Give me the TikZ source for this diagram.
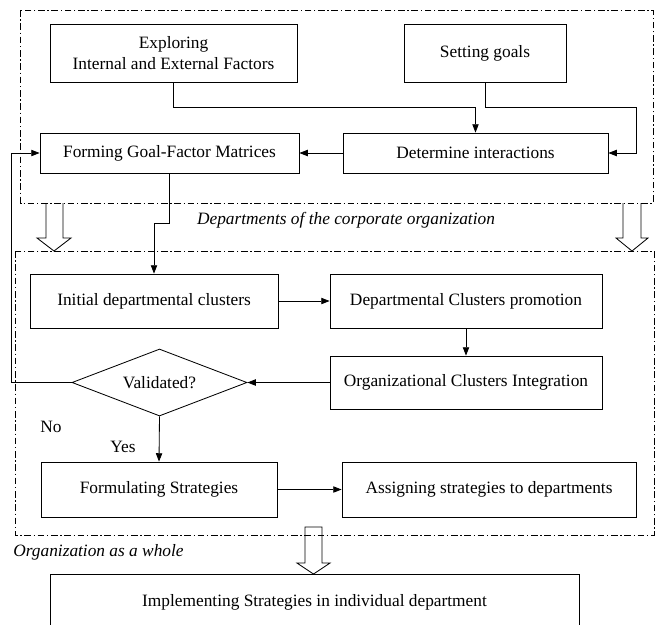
\documentclass[tikz,border=0pt]{standalone}
\usepackage{fontspec}
\setmainfont{Liberation Serif}
\usepackage{tikz}
\usetikzlibrary{shapes,arrows,positioning,fit,calc,arrows.meta}

\tikzset{
    stepbox/.style={draw, line width=0.5pt, align=center, inner sep=2pt},
    groupbox/.style={line width=0.45pt, dash pattern=on 4pt off 1.6pt on 0.8pt off 1.6pt},
    arr/.style={line width=0.5pt, -{Triangle[length=5pt,width=3.8pt]}},
    hollow/.style={draw, line width=0.5pt}
}

\begin{document}
\begin{tikzpicture}[x=0.6pt, y=-0.6pt, font=\fontsize{10.4}{12.5}\selectfont]
    \useasboundingbox (0,0) rectangle (659,624);
    % Departments of the corporate organization
    \draw[groupbox] (20.7,10) rectangle (653,203);
    \node[stepbox, minimum width=148.2pt, minimum height=34.8pt] (explore) at (173.5,53) {Exploring\\Internal and External Factors};
    \node[stepbox, minimum width=97.2pt, minimum height=34.8pt] (goals) at (485,53) {Setting goals};
    \node[stepbox, minimum width=155.4pt, minimum height=24pt] (forming) at (169.5,153) {Forming Goal-Factor Matrices};
    \node[stepbox, minimum width=159pt, minimum height=24pt] (determine) at (475.5,153) {Determine interactions};
    \node[font=\itshape\fontsize{10.4}{12.5}\selectfont] (deptlabel) at (346,220) {Departments of the corporate organization};

    % Organization as a whole
    \draw[groupbox] (15,251) rectangle (654,535);
    \node[stepbox, minimum width=148.8pt, minimum height=32.4pt] (initial) at (154,301) {Initial departmental clusters};
    \node[stepbox, minimum width=163.2pt, minimum height=32.4pt] (promotion) at (466,301) {Departmental Clusters promotion};
    \node[stepbox, minimum width=163.2pt, minimum height=31.8pt] (integration) at (466,382.5) {Organizational Clusters Integration};
    \node[draw, line width=0.5pt, diamond, aspect=2.6, inner sep=0pt, minimum width=105pt, minimum height=40.2pt] (valid) at (159.5,382.5) {Validated?};
    \node[stepbox, minimum width=141.6pt, minimum height=33pt] (formulating) at (159,489.5) {Formulating Strategies};
    \node[stepbox, minimum width=176.4pt, minimum height=33pt] (assigning) at (489,489.5) {Assigning strategies to departments};
    \node (nolabel) at (51,427) {No};
    \node (yeslabel) at (123,447) {Yes};
    \node[anchor=west, inner sep=0pt, font=\itshape\fontsize{10.4}{12.5}\selectfont] (orglabel) at (13,552) {Organization as a whole};

    \node[stepbox, minimum width=317.4pt, minimum height=33.6pt] (implement) at (314.5,602) {Implementing Strategies in individual department};

    % hollow arrows
    \draw[hollow] (46,203) -- (46,238) -- (37,238) -- (54,251) -- (71,238) -- (63,238) -- (63,203);
    \draw[hollow] (623,203) -- (623,238) -- (616,238) -- (632,251) -- (648,238) -- (641,238) -- (641,203);
    \draw[hollow] (305,527) -- (305,563) -- (297,563) -- (313.5,574) -- (330,563) -- (322,563) -- (322,527) -- cycle;

    % connectors
    \draw[arr] (explore.south) -- ++(0,25) -| (determine.north);
    \draw[arr] (goals.south) -- ++(0,25) -- ++(151,0) |- (determine.east);
    \draw[arr] (determine.west) -- (forming.east);
    \draw[arr] (forming.south) -- ++(0,50) -| (initial.north);
    \draw[arr] (initial.east) -- (promotion.west);
    \draw[arr] (promotion.south) -- (integration.north);
    \draw[arr] (integration.west) -- (valid.east);
    \draw[arr] (valid.west) -- ++(-60,0) |- (forming.west);
    \draw[arr] (valid.south) -- (formulating.north);
    \draw[arr] (formulating.east) -- (assigning.west);
\end{tikzpicture}
\end{document}
